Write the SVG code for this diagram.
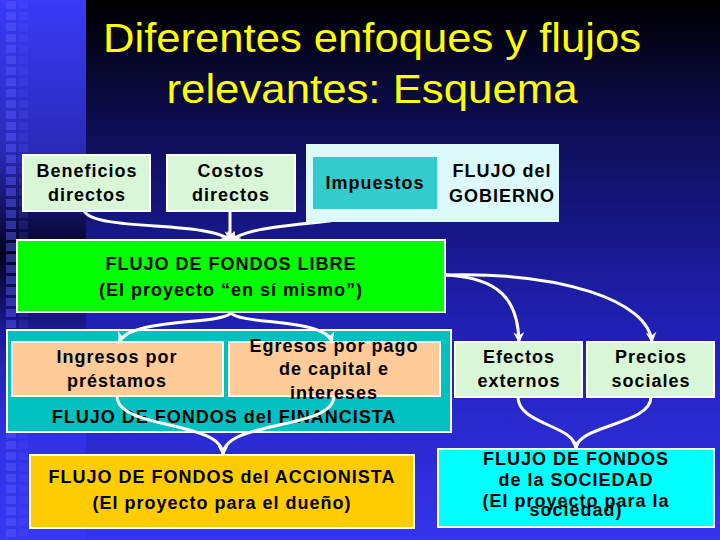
<svg xmlns="http://www.w3.org/2000/svg" width="720" height="540" viewBox="0 0 720 540">
  <defs>
    <linearGradient id="bgMain" x1="0" y1="0" x2="0" y2="1">
      <stop offset="0" stop-color="#000000"/>
      <stop offset="0.25" stop-color="#0e0e58"/>
      <stop offset="0.6" stop-color="#2020b4"/>
      <stop offset="1" stop-color="#3434ec"/>
    </linearGradient>
    <linearGradient id="bgStrip" x1="0" y1="0" x2="0" y2="1">
      <stop offset="0" stop-color="#3a3af8"/>
      <stop offset="0.28" stop-color="#2a2ab8"/>
      <stop offset="0.47" stop-color="#020222"/>
      <stop offset="0.62" stop-color="#1c1c9c"/>
      <stop offset="0.8" stop-color="#3030e4"/>
      <stop offset="1" stop-color="#3838f4"/>
    </linearGradient>
    <pattern id="squares" x="0" y="0" width="86" height="11" patternUnits="userSpaceOnUse">
      <rect x="6" y="1" width="10" height="8" fill="#5a5aff" opacity="0.45"/>
      <rect x="19" y="1" width="9" height="8" fill="#5a5aff" opacity="0.18"/>
    </pattern>
    <marker id="arr" viewBox="0 0 10 10" refX="9" refY="5" markerWidth="3.6" markerHeight="3.6" orient="auto" markerUnits="strokeWidth">
      <path d="M0,0 L10,5 L0,10 L3,5 z" fill="#ffffff"/>
    </marker>
    <style>
      .title { font-family: "Liberation Sans", Arial, sans-serif; font-size: 40px; fill: #ffff00; text-anchor: middle; }
      .lbl { font-family: "Liberation Sans", Arial, sans-serif; font-size: 18px; font-weight: bold; letter-spacing: 1px; fill: #000000; text-anchor: middle; }
      .box { stroke: #ffffff; stroke-width: 2; }
      .conn { fill: none; stroke: #ffffff; stroke-width: 3; marker-end: url(#arr); }
      .connp { fill: none; stroke: #ffffff; stroke-width: 3; }
    </style>
  </defs>

  <!-- background -->
  <rect x="0" y="0" width="720" height="540" fill="url(#bgMain)"/>
  <rect x="0" y="0" width="86" height="540" fill="url(#bgStrip)"/>
  <rect x="0" y="0" width="86" height="540" fill="url(#squares)"/>

  <!-- title -->
  <g id="title">
    <text class="title" x="372" y="52" textLength="538" lengthAdjust="spacingAndGlyphs">Diferentes enfoques y flujos</text>
    <text class="title" x="372" y="103" textLength="411" lengthAdjust="spacingAndGlyphs">relevantes: Esquema</text>
  </g>

  <g id="financista">
    <rect class="box" x="7" y="330" width="444" height="102" fill="#00c0c0"/>
    <text class="lbl" x="224" y="423">FLUJO DE FONDOS del FINANCISTA</text>
  </g>

  <!-- connectors -->
  <g id="connectors">
    <path class="conn" d="M84,211 C96,232 210,220 231,241"/>
    <path class="conn" d="M230,211 L230,241"/>
    <path class="conn" d="M375,211 C340,226 250,222 231,241"/>
    <path class="conn" d="M231,313 C220,325 130,318 119,342"/>
    <path class="conn" d="M231,313 C242,325 325,318 332,342"/>
    <path class="conn" d="M117,396 C117,430 223,420 223,455"/>
    <path class="conn" d="M334,396 C334,430 223,420 223,455"/>
    <path class="conn" d="M446,275 C500,278 518,300 519,342"/>
    <path class="conn" d="M446,275 C560,272 648,300 652,342"/>
    <path class="conn" d="M518,397 C518,425 576,425 576,449"/>
    <path class="conn" d="M651,397 C651,425 576,425 576,449"/>
  </g>

  <g id="beneficios">
    <rect class="box" x="23" y="155" width="127" height="56" fill="#d9f7d6"/>
    <text class="lbl" x="87" y="177">Beneficios</text>
    <text class="lbl" x="87" y="201">directos</text>
  </g>

  <g id="costos">
    <rect class="box" x="167" y="155" width="128" height="56" fill="#d9f7d6"/>
    <text class="lbl" x="231" y="177">Costos</text>
    <text class="lbl" x="231" y="201">directos</text>
  </g>

  <g id="gobierno">
    <rect x="306" y="144" width="253" height="78" fill="#dcfafa"/>
    <text class="lbl" x="502" y="177">FLUJO del</text>
    <text class="lbl" x="502" y="202">GOBIERNO</text>
  </g>

  <g id="impuestos">
    <rect x="313" y="157" width="124" height="52" fill="#33cccc"/>
    <text class="lbl" x="375" y="189">Impuestos</text>
  </g>

  <g id="libre">
    <rect class="box" x="17" y="240" width="428" height="72" fill="#00ff00"/>
    <text class="lbl" x="231" y="270">FLUJO DE FONDOS LIBRE</text>
    <text class="lbl" x="231" y="296">(El proyecto “en sí mismo”)</text>
  </g>

  <g id="ingresos">
    <rect class="box" x="12" y="342" width="211" height="54" fill="#ffcc99"/>
    <text class="lbl" x="117" y="363">Ingresos por</text>
    <text class="lbl" x="117" y="387">préstamos</text>
  </g>

  <g id="egresos">
    <rect class="box" x="229" y="342" width="211" height="54" fill="#ffcc99"/>
    <text class="lbl" x="334" y="352">Egresos por pago</text>
    <text class="lbl" x="334" y="375">de capital e</text>
    <text class="lbl" x="334" y="399">intereses</text>
  </g>

  <g id="accionista">
    <rect class="box" x="30" y="455" width="384" height="73" fill="#ffcc00"/>
    <text class="lbl" x="222" y="483">FLUJO DE FONDOS del ACCIONISTA</text>
    <text class="lbl" x="222" y="509">(El proyecto para el dueño)</text>
  </g>

  <g id="efectos">
    <rect class="box" x="455" y="342" width="127" height="55" fill="#d9f7d6"/>
    <text class="lbl" x="519" y="363">Efectos</text>
    <text class="lbl" x="519" y="387">externos</text>
  </g>

  <g id="precios">
    <rect class="box" x="587" y="342" width="127" height="55" fill="#d9f7d6"/>
    <text class="lbl" x="651" y="363">Precios</text>
    <text class="lbl" x="651" y="387">sociales</text>
  </g>

  <g id="sociedad">
    <rect class="box" x="438" y="449" width="276" height="78" fill="#00ffff"/>
    <text class="lbl" x="576" y="465">FLUJO DE FONDOS</text>
    <text class="lbl" x="576" y="486">de la SOCIEDAD</text>
    <text class="lbl" x="576" y="507">(El proyecto para la</text>
    <text class="lbl" x="576" y="516">sociedad)</text>
  </g>
</svg>
